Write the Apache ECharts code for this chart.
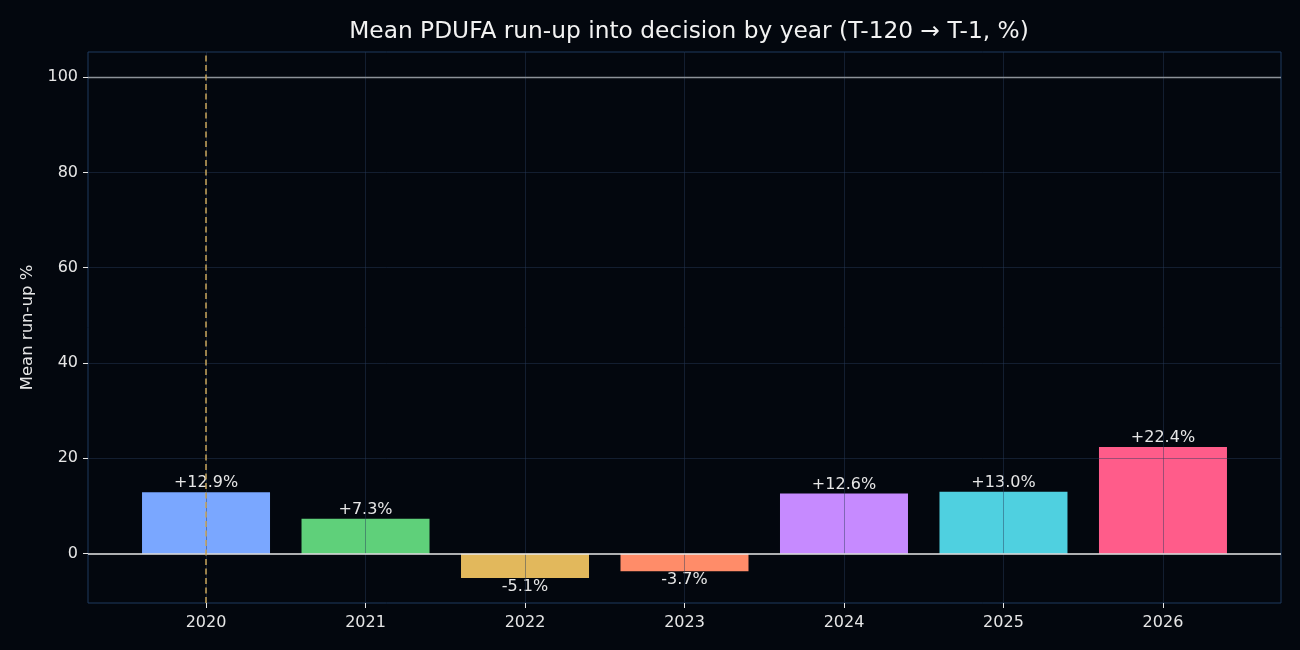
<!DOCTYPE html>
<html>
<head>
<meta charset="utf-8">
<script src="https://cdn.jsdelivr.net/npm/echarts@6/dist/echarts.min.js"></script>
<style>
  html, body { margin: 0; padding: 0; background: #03070e; }
  #chart { width: 1300px; height: 650px; }
</style>
</head>
<body>
<div id="chart"></div>
<script>
const years = ['2020', '2021', '2022', '2023', '2024', '2025', '2026']
const runup = [12.9, 7.3, -5.1, -3.7, 12.6, 13.0, 22.4]
const barColors = ['#7aa7ff', '#5fd07a', '#e2b85c', '#ff8c69', '#c68aff', '#4fd0e0', '#ff5c8a']
const yTicks = [0, 20, 40, 60, 80, 100]
const refLevel = 100
const highlightIdx = 0

const textColor = '#e6e6e6'
const gridColor = 'rgba(40, 60, 90, 0.45)'
const font = 'DejaVu Sans'

// matplotlib-like margins
const lo = Math.min(0, ...runup)
const hi = Math.max(refLevel, ...runup)
const yPad = (hi - lo) * 0.05
const xPad = (years.length - 1 + 0.8) * 0.05

const chart = echarts.init(document.getElementById('chart'))

const gridLines = [
  ...years.map((_, i) => ({ xAxis: i, lineStyle: { color: gridColor, width: 1, type: 'solid' } })),
  ...yTicks.filter(v => v !== 0 && v !== refLevel)
    .map(v => ({ yAxis: v, lineStyle: { color: gridColor, width: 1, type: 'solid' } })),
  { yAxis: refLevel, lineStyle: { color: '#8d9299', width: 1.3, type: 'solid' } },
  { yAxis: 0, lineStyle: { color: '#e8e8e8', width: 1.6, type: 'solid' } },
  { xAxis: highlightIdx, lineStyle: { color: '#c9a55a', width: 1.5, type: [6, 3.5] } }
]

chart.setOption({
  backgroundColor: '#03070e',
  animation: false,
  textStyle: { fontFamily: font },
  title: {
    text: 'Mean PDUFA run-up into decision by year (T-120 \u2192 T-1, %)',
    left: 684,
    top: 15,
    textAlign: 'center',
    textStyle: { color: '#f2f2f2', fontSize: 23.3, fontWeight: 'normal', fontFamily: font }
  },
  grid: {
    left: 88, right: 19, top: 52, bottom: 47,
    show: true, borderColor: '#1f3a5f', borderWidth: 1
  },
  xAxis: {
    type: 'value',
    min: -0.4 - xPad,
    max: years.length - 1 + 0.4 + xPad,
    axisLine: { show: false, onZero: false },
    splitLine: { show: false },
    axisTick: { show: true, customValues: years.map((_, i) => i), length: 5, lineStyle: { color: textColor } },
    axisLabel: {
      customValues: years.map((_, i) => i),
      formatter: v => years[Math.round(v)],
      color: textColor, fontSize: 16, margin: 12, fontFamily: font
    }
  },
  yAxis: {
    type: 'value',
    min: lo - yPad,
    max: hi + yPad,
    name: 'Mean run-up %',
    nameLocation: 'middle',
    nameRotate: 90,
    nameGap: 51,
    nameTextStyle: { color: textColor, fontSize: 16.5, fontFamily: font },
    axisLine: { show: false, onZero: false },
    splitLine: { show: false },
    axisTick: { show: true, customValues: yTicks, length: 5, lineStyle: { color: textColor } },
    axisLabel: {
      customValues: yTicks,
      color: textColor, fontSize: 16, margin: 10, fontFamily: font
    }
  },
  series: [{
    type: 'bar',
    barWidth: 128,
    data: runup.map((v, i) => ({
      value: [i, v],
      itemStyle: { color: barColors[i] },
      label: {
        show: true,
        position: v >= 0 ? 'top' : 'bottom',
        distance: 1,
        formatter: (v >= 0 ? '+' : '') + v.toFixed(1) + '%',
        color: textColor,
        fontSize: 16,
        fontFamily: font
      }
    })),
    markLine: {
      silent: true,
      symbol: 'none',
      label: { show: false },
      animation: false,
      data: gridLines
    }
  }]
})

window.addEventListener('resize', () => chart.resize())
</script>
</body>
</html>
